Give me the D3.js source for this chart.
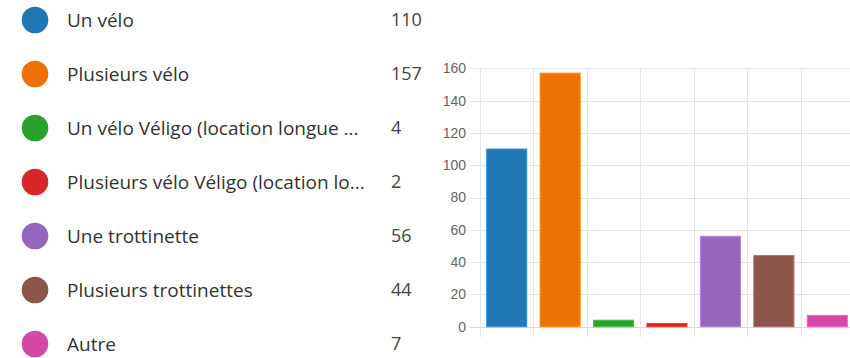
<!DOCTYPE html>
<html>
<head>
<meta charset="utf-8">
<script src="https://cdn.jsdelivr.net/npm/d3@7"></script>
<style>
  body { margin: 0; background: #fff; }
</style>
</head>
<body>
<div id="chart"></div>
<script>
// data
var labels = ["Un vélo", "Plusieurs vélo", "Un vélo Véligo (location longue ...",
              "Plusieurs vélo Véligo (location lo...", "Une trottinette",
              "Plusieurs trottinettes", "Autre"];
var counts = [110, 157, 4, 2, 56, 44, 7];
var colors = ["#1f77b4", "#ec7206", "#2ca02c", "#d62728", "#9467bd", "#8c564b", "#d548a7"];
var yTicks = [0, 20, 40, 60, 80, 100, 120, 140, 160];

var W = 850, H = 358;

var svg = d3.select("#chart")
  .append("svg")
  .attr("width", W)
  .attr("height", H);

// legend on the left
var rowY = d3.scalePoint()
  .domain(d3.range(labels.length))
  .range([20, 344]);

var legend = svg.append("g");

legend.selectAll("circle")
  .data(labels)
  .enter()
  .append("circle")
    .attr("cx", 35)
    .attr("cy", function(d, i) { return rowY(i); })
    .attr("r", 13.3)
    .attr("fill", function(d, i) { return colors[i]; });

legend.selectAll("text.label")
  .data(labels)
  .enter()
  .append("text")
    .attr("class", "label")
    .attr("x", 67)
    .attr("y", function(d, i) { return rowY(i); })
    .attr("dy", "0.36em")
    .style("font-family", "'Open Sans', sans-serif")
    .style("font-size", "19px")
    .style("fill", "#333")
    .text(function(d) { return d; });

legend.selectAll("text.value")
  .data(counts)
  .enter()
  .append("text")
    .attr("class", "value")
    .attr("x", 391)
    .attr("y", function(d, i) { return rowY(i); })
    .attr("dy", "0.36em")
    .style("font-family", "'Open Sans', sans-serif")
    .style("font-size", "18px")
    .style("fill", "#444")
    .text(function(d) { return d; });

// bar chart on the right
var x = d3.scaleBand()
  .domain(d3.range(counts.length))
  .range([480, 854])
  .padding(0);

var y = d3.scaleLinear()
  .domain([0, 160])
  .range([326.7, 68.3]);

var grid = svg.append("g");

// horizontal grid lines
grid.selectAll("line.h")
  .data(yTicks)
  .enter()
  .append("line")
    .attr("class", "h")
    .attr("x1", 470)
    .attr("x2", W)
    .attr("y1", function(d) { return Math.round(y(d)) + 0.5; })
    .attr("y2", function(d) { return Math.round(y(d)) + 0.5; })
    .attr("stroke", function(d) { return d === 0 ? "#d6d6d6" : "#e4e4e4"; })
    .attr("stroke-width", 1);

// vertical grid lines at band edges
var edges = d3.range(counts.length + 1).map(function(i) { return 480 + i * x.step(); });
grid.selectAll("line.v")
  .data(edges)
  .enter()
  .append("line")
    .attr("class", "v")
    .attr("x1", function(d) { return Math.round(d) + 0.5; })
    .attr("x2", function(d) { return Math.round(d) + 0.5; })
    .attr("y1", y(160))
    .attr("y2", 337)
    .attr("stroke", "#e4e4e4")
    .attr("stroke-width", 1);

// y tick labels
svg.append("g").selectAll("text")
  .data(yTicks)
  .enter()
  .append("text")
    .attr("x", 466)
    .attr("y", function(d) { return y(d); })
    .attr("dy", "0.35em")
    .attr("text-anchor", "end")
    .style("font-family", "'Liberation Sans', Arial, sans-serif")
    .style("font-size", "14px")
    .style("fill", "#666")
    .text(function(d) { return d; });

// bars
var inset = x.bandwidth() * 0.125;
svg.append("g").selectAll("rect")
  .data(counts)
  .enter()
  .append("rect")
    .attr("x", function(d, i) { return x(i) + inset; })
    .attr("y", function(d) { return y(d); })
    .attr("width", x.bandwidth() - 2 * inset)
    .attr("height", function(d) { return y(0) - y(d); })
    .attr("fill", function(d, i) { return colors[i]; })
    .attr("stroke", function(d, i) { return d3.color(colors[i]).brighter(0.6); })
    .attr("stroke-width", 1);
</script>
</body>
</html>
